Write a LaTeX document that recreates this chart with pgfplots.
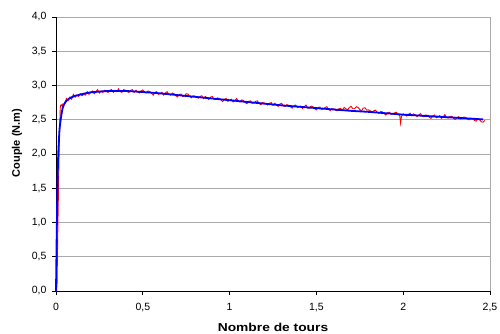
\documentclass[border=0pt]{standalone}
\usepackage{fontspec}
\setmainfont{Liberation Sans}
\usepackage{pgfplots}
\pgfplotsset{compat=1.18}
\definecolor{gridgray}{RGB}{170,170,170}
\begin{document}
\begin{tikzpicture}
\begin{axis}[
  name=ax,
  scale only axis,
  width=434bp, height=274bp,
  xmin=0, xmax=2.5, ymin=0, ymax=4,
  axis x line*=bottom, axis y line*=left,
  axis line style={black, line width=0.9bp},
  tick align=outside,
  major tick length=4bp,
  tick style={black, line width=0.8bp},
  xtick={0,0.5,1,1.5,2,2.5},
  xticklabels={0,{0,5},1,{1,5},2,{2,5}},
  ytick={0,0.5,1,1.5,2,2.5,3,3.5,4},
  yticklabels={{0,0},{0,5},{1,0},{1,5},{2,0},{2,5},{3,0},{3,5},{4,0}},
  /pgf/number format/assume math mode=true,
  ticklabel style={font=\fontsize{10.5bp}{12bp}\selectfont},
  xticklabel style={yshift=-4.5bp},
  yticklabel style={xshift=-2bp},
  ymajorgrids,
  grid style={gridgray, line width=0.8bp},
  xlabel={\scalebox{1.2}[1]{\bfseries Nombre de tours}},
  ylabel={\bfseries Couple (N.m)},
  xlabel style={at={(rel axis cs:0.5,0)}, anchor=center, yshift=-36bp, font=\fontsize{11.5bp}{13bp}\selectfont},
  ylabel style={at={(rel axis cs:0,0.54)}, anchor=center, rotate=0, yshift=39bp, font=\fontsize{11bp}{12bp}\selectfont},
  clip=false,
]
\draw[gridgray, line width=0.8bp] (rel axis cs:1,0) -- (rel axis cs:1,1);
% measured (red)
\addplot[red, line width=0.9bp] coordinates {
(0,0) (0.003,0) (0.006,0.1) (0.01,0.8) (0.015,1.6) (0.02,2.3) (0.025,2.7)
(0.03,2.72) (0.035,2.70) (0.04,2.73) (0.045,2.71) (0.05,2.75) (0.055,2.77)
(0.06,2.81) (0.07,2.78) (0.08,2.83) (0.09,2.80) (0.10,2.87) (0.11,2.83) (0.12,2.86) (0.13,2.84) (0.14,2.88) (0.15,2.85) (0.16,2.87)
(0.17,2.86) (0.18,2.91) (0.19,2.87) (0.20,2.90) (0.21,2.92) (0.22,2.88) (0.23,2.91) (0.24,2.94) (0.25,2.89) (0.26,2.92) (0.27,2.90) (0.28,2.93)
(0.29,2.91) (0.30,2.90) (0.31,2.93) (0.32,2.94) (0.33,2.90) (0.34,2.93) (0.35,2.91) (0.36,2.95) (0.37,2.91) (0.38,2.90) (0.39,2.94) (0.40,2.93)
(0.41,2.91) (0.42,2.90) (0.43,2.93) (0.44,2.94) (0.45,2.90) (0.46,2.93) (0.47,2.91) (0.48,2.89) (0.49,2.92) (0.50,2.935) (0.51,2.90) (0.52,2.89)
(0.53,2.92) (0.54,2.91) (0.55,2.89) (0.56,2.86) (0.57,2.90) (0.58,2.91) (0.59,2.87) (0.60,2.885) (0.61,2.90) (0.62,2.86) (0.63,2.89) (0.64,2.91)
(0.65,2.87) (0.66,2.86) (0.67,2.89) (0.68,2.88) (0.69,2.85) (0.70,2.835) (0.71,2.87) (0.72,2.875) (0.73,2.84) (0.74,2.845) (0.75,2.88) (0.76,2.875)
(0.77,2.84) (0.78,2.82) (0.79,2.85) (0.80,2.845) (0.81,2.83) (0.82,2.815) (0.83,2.84) (0.84,2.85) (0.85,2.81) (0.86,2.84) (0.87,2.82) (0.88,2.795)
(0.89,2.83) (0.90,2.84) (0.91,2.80) (0.92,2.795) (0.93,2.82) (0.94,2.81) (0.95,2.79) (0.96,2.765) (0.97,2.80) (0.98,2.81) (0.99,2.77) (1.00,2.785)
(1.01,2.80) (1.02,2.76) (1.03,2.78) (1.04,2.81) (1.05,2.77) (1.06,2.76) (1.07,2.79) (1.08,2.78) (1.09,2.75) (1.10,2.735) (1.11,2.77) (1.12,2.775)
(1.13,2.74) (1.14,2.745) (1.15,2.77) (1.16,2.775) (1.17,2.74) (1.18,2.72) (1.19,2.75) (1.20,2.745) (1.21,2.73) (1.22,2.715) (1.23,2.74) (1.24,2.75)
(1.25,2.71) (1.26,2.74) (1.27,2.72) (1.28,2.695) (1.29,2.73) (1.30,2.74) (1.31,2.70) (1.32,2.695) (1.33,2.72) (1.34,2.71) (1.35,2.69) (1.36,2.67)
(1.37,2.70) (1.38,2.715) (1.39,2.68) (1.40,2.69) (1.41,2.70) (1.42,2.665) (1.43,2.69) (1.44,2.715) (1.45,2.67) (1.46,2.67) (1.47,2.70) (1.48,2.69)
(1.49,2.66) (1.50,2.645) (1.51,2.68) (1.52,2.685) (1.53,2.65) (1.54,2.66) (1.55,2.68) (1.56,2.69) (1.57,2.65) (1.58,2.635) (1.59,2.66) (1.60,2.66)
(1.61,2.64) (1.62,2.63) (1.63,2.66) (1.64,2.665) (1.65,2.64) (1.66,2.68) (1.67,2.66) (1.68,2.645) (1.69,2.68) (1.70,2.695) (1.71,2.66) (1.72,2.66)
(1.73,2.69) (1.74,2.68) (1.75,2.65) (1.76,2.63) (1.77,2.67) (1.78,2.675) (1.79,2.64) (1.80,2.645) (1.81,2.63) (1.82,2.61) (1.83,2.63) (1.84,2.64)
(1.85,2.61) (1.86,2.595) (1.87,2.62) (1.88,2.615) (1.89,2.59) (1.90,2.57) (1.91,2.60) (1.92,2.61) (1.93,2.58) (1.94,2.58) (1.95,2.60) (1.96,2.61)
(1.97,2.58) (1.98,2.56) (1.985,2.45) (1.99,2.55) (2.00,2.585) (2.01,2.57) (2.02,2.555) (2.03,2.58) (2.04,2.595)
(2.05,2.56) (2.06,2.585) (2.07,2.57) (2.08,2.545) (2.09,2.57) (2.10,2.59) (2.11,2.55) (2.12,2.545) (2.13,2.57) (2.14,2.565) (2.15,2.54) (2.16,2.52)
(2.17,2.55) (2.18,2.57) (2.19,2.53) (2.20,2.545) (2.21,2.56) (2.22,2.52) (2.23,2.54) (2.24,2.575) (2.25,2.53) (2.26,2.525) (2.27,2.55) (2.28,2.55)
(2.29,2.52) (2.30,2.505) (2.31,2.53) (2.32,2.545) (2.33,2.51) (2.34,2.52) (2.35,2.54) (2.36,2.53) (2.37,2.51) (2.38,2.50) (2.39,2.52) (2.40,2.515)
(2.41,2.49) (2.42,2.48) (2.43,2.51) (2.44,2.50) (2.45,2.47) (2.46,2.465) (2.47,2.49)
};
% model (blue)
\addplot[blue, line width=1.8bp, smooth, tension=0.3] coordinates {
(0,0) (0.004,0.8) (0.008,1.5) (0.013,2.0) (0.02,2.35) (0.027,2.5)
(0.035,2.63) (0.042,2.7) (0.055,2.76) (0.07,2.80) (0.1,2.84) (0.15,2.875)
(0.2,2.90) (0.3,2.92) (0.4,2.92) (0.5,2.905) (0.6,2.885) (0.7,2.86)
(0.8,2.835) (0.9,2.81) (1.0,2.785) (1.1,2.76) (1.2,2.735) (1.3,2.71)
(1.4,2.69) (1.5,2.67) (1.6,2.65) (1.7,2.63) (1.8,2.615) (1.9,2.595)
(2.0,2.575) (2.1,2.56) (2.2,2.545) (2.3,2.53) (2.4,2.515) (2.46,2.505)
};
\end{axis}
\pgfresetboundingbox
\useasboundingbox (ax.south west) ++(-56bp,-43bp) rectangle ++(500bp,334bp);
\end{tikzpicture}
\end{document}
